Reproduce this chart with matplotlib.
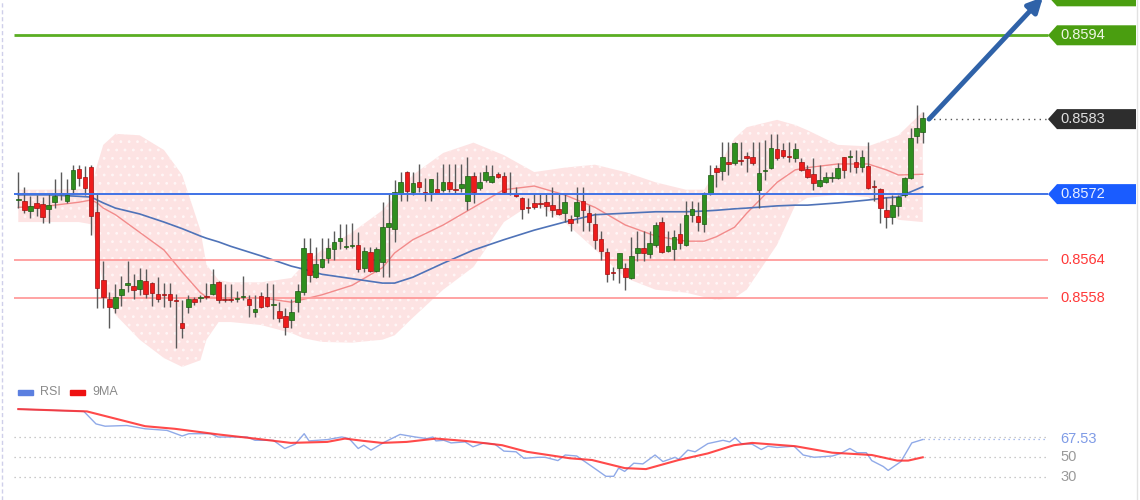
import matplotlib
matplotlib.use("Agg")
import matplotlib.pyplot as plt
from matplotlib.patches import Polygon, Rectangle
from matplotlib.transforms import IdentityTransform
from matplotlib.lines import Line2D
import numpy as np

plt.rcParams['font.family'] = ['Liberation Sans', 'DejaVu Sans']
plt.rcParams['hatch.linewidth'] = 0.8

# candles (price)
opens = [0.85716,0.85715,0.85701,0.85712,0.85711,0.85704,0.85713,0.85726,0.85715,0.85731,
         0.85758,0.85747,0.85761,0.85700,0.85607,0.85581,0.85569,0.85587,0.85600,0.85599,
         0.85595,0.85606,0.85603,0.85588,0.85588,0.85588,0.85580,0.85549,0.85570,0.85581,
         0.85583,0.85585,0.85588,0.85604,0.85581,0.85581,0.85581,0.85584,0.85581,0.85564,
         0.85585,0.85584,0.85573,0.85565,0.85558,0.85553,0.85577,0.85591,0.85644,0.85611,
         0.85625,0.85637,0.85649,0.85660,0.85652,0.85653,0.85655,0.85624,0.85645,0.85619,
         0.85632,0.85679,0.85677,0.85726,0.85754,0.85727,0.85740,0.85727,0.85727,0.85731,
         0.85730,0.85740,0.85731,0.85732,0.85715,0.85749,0.85732,0.85743,0.85740,0.85751,
         0.85749,0.85726,0.85724,0.85719,0.85706,0.85712,0.85711,0.85713,0.85709,0.85704,
         0.85698,0.85690,0.85694,0.85715,0.85698,0.85683,0.85663,0.85645,0.85618,0.85624,
         0.85624,0.85610,0.85644,0.85651,0.85643,0.85655,0.85686,0.85647,0.85649,0.85670,
         0.85655,0.85696,0.85694,0.85683,0.85726,0.85760,0.85755,0.85768,0.85766,0.85770,
         0.85776,0.85774,0.85730,0.85755,0.85760,0.85785,0.85784,0.85776,0.85773,0.85768,
         0.85758,0.85751,0.85735,0.85740,0.85746,0.85746,0.85774,0.85774,0.85768,0.85761,
         0.85762,0.85734,0.85731,0.85702,0.85693,0.85708,0.85723,0.85746,0.85803,0.85808]
highs = [0.85754,0.85734,0.85721,0.85723,0.85720,0.85724,0.85745,0.85754,0.85745,0.85764,
         0.85764,0.85762,0.85763,0.85724,0.85633,0.85591,0.85602,0.85613,0.85633,0.85615,
         0.85624,0.85622,0.85604,0.85611,0.85603,0.85603,0.85588,0.85580,0.85587,0.85584,
         0.85587,0.85603,0.85622,0.85606,0.85602,0.85602,0.85592,0.85613,0.85587,0.85587,
         0.85591,0.85603,0.85602,0.85577,0.85569,0.85581,0.85602,0.85664,0.85664,0.85652,
         0.85664,0.85664,0.85674,0.85683,0.85683,0.85685,0.85672,0.85652,0.85652,0.85652,
         0.85713,0.85726,0.85743,0.85754,0.85755,0.85754,0.85765,0.85746,0.85745,0.85754,
         0.85765,0.85765,0.85765,0.85765,0.85774,0.85754,0.85754,0.85764,0.85764,0.85754,
         0.85754,0.85754,0.85734,0.85720,0.85719,0.85724,0.85724,0.85724,0.85734,0.85724,
         0.85724,0.85696,0.85734,0.85734,0.85709,0.85698,0.85674,0.85651,0.85625,0.85644,
         0.85630,0.85666,0.85674,0.85674,0.85674,0.85686,0.85693,0.85674,0.85675,0.85685,
         0.85715,0.85715,0.85713,0.85727,0.85764,0.85764,0.85795,0.85795,0.85795,0.85795,
         0.85781,0.85795,0.85795,0.85798,0.85806,0.85806,0.85794,0.85795,0.85794,0.85773,
         0.85764,0.85773,0.85764,0.85754,0.85754,0.85766,0.85775,0.85784,0.85784,0.85784,
         0.85795,0.85743,0.85732,0.85720,0.85723,0.85723,0.85747,0.85814,0.85845,0.85836]
lows = [0.85705,0.85698,0.85692,0.85694,0.85685,0.85685,0.85705,0.85716,0.85712,0.85724,
        0.85735,0.85723,0.85668,0.85569,0.85569,0.85542,0.85562,0.85572,0.85591,0.85581,
        0.85587,0.85583,0.85572,0.85577,0.85570,0.85570,0.85515,0.85528,0.85562,0.85573,
        0.85577,0.85581,0.85587,0.85576,0.85577,0.85577,0.85577,0.85580,0.85557,0.85557,
        0.85569,0.85570,0.85554,0.85550,0.85532,0.85542,0.85564,0.85587,0.85604,0.85610,
        0.85624,0.85630,0.85634,0.85649,0.85649,0.85651,0.85618,0.85618,0.85618,0.85618,
        0.85611,0.85611,0.85659,0.85715,0.85715,0.85723,0.85727,0.85715,0.85715,0.85726,
        0.85727,0.85727,0.85724,0.85727,0.85702,0.85712,0.85730,0.85740,0.85739,0.85746,
        0.85726,0.85723,0.85720,0.85690,0.85698,0.85704,0.85705,0.85694,0.85693,0.85696,
        0.85686,0.85674,0.85685,0.85674,0.85674,0.85649,0.85634,0.85604,0.85607,0.85603,
        0.85594,0.85609,0.85633,0.85633,0.85637,0.85652,0.85644,0.85645,0.85634,0.85649,
        0.85653,0.85686,0.85674,0.85672,0.85723,0.85734,0.85743,0.85750,0.85764,0.85764,
        0.85754,0.85764,0.85705,0.85743,0.85758,0.85770,0.85773,0.85768,0.85768,0.85755,
        0.85746,0.85730,0.85734,0.85739,0.85740,0.85744,0.85746,0.85754,0.85753,0.85754,
        0.85731,0.85715,0.85685,0.85678,0.85683,0.85694,0.85720,0.85745,0.85794,0.85794]
closes = [0.85717,0.85702,0.85708,0.85705,0.85693,0.85709,0.85721,0.85724,0.85723,0.85757,
          0.85746,0.85732,0.85694,0.85596,0.85584,0.85570,0.85584,0.85595,0.85603,0.85594,
          0.85607,0.85588,0.85590,0.85581,0.85587,0.85580,0.85579,0.85542,0.85581,0.85577,
          0.85584,0.85584,0.85602,0.85580,0.85580,0.85580,0.85582,0.85585,0.85573,0.85568,
          0.85570,0.85572,0.85574,0.85556,0.85543,0.85564,0.85592,0.85651,0.85614,0.85629,
          0.85636,0.85651,0.85659,0.85664,0.85653,0.85654,0.85622,0.85647,0.85619,0.85649,
          0.85679,0.85685,0.85727,0.85740,0.85728,0.85739,0.85734,0.85724,0.85745,0.85726,
          0.85740,0.85731,0.85730,0.85738,0.85749,0.85727,0.85740,0.85754,0.85749,0.85747,
          0.85727,0.85724,0.85721,0.85704,0.85705,0.85706,0.85710,0.85708,0.85702,0.85697,
          0.85713,0.85685,0.85713,0.85702,0.85686,0.85662,0.85647,0.85615,0.85617,0.85644,
          0.85611,0.85640,0.85651,0.85644,0.85658,0.85682,0.85645,0.85653,0.85666,0.85658,
          0.85696,0.85704,0.85686,0.85726,0.85750,0.85754,0.85774,0.85765,0.85793,0.85769,
          0.85773,0.85766,0.85753,0.85757,0.85787,0.85773,0.85776,0.85775,0.85785,0.85757,
          0.85747,0.85739,0.85743,0.85747,0.85747,0.85760,0.85757,0.85774,0.85761,0.85774,
          0.85732,0.85733,0.85705,0.85693,0.85709,0.85720,0.85746,0.85800,0.85814,0.85828]

# bollinger band / moving averages, sampled at candle index
band_idx = [0, 5, 10, 12, 13, 14, 16, 20, 24, 27, 30, 31, 33, 35, 40, 45, 47, 50, 55, 60,
            62, 65, 70, 75, 80, 85, 90, 95, 100, 105, 110, 113, 115, 118, 120, 125, 128, 130,
            135, 140, 143, 145, 149]
band_upper = [0.85730,0.85730,0.85731,0.85730,0.85764,0.85791,0.85806,0.85804,0.85784,0.85750,
              0.85675,0.85628,0.85607,0.85604,0.85604,0.85610,0.85628,0.85648,0.85672,0.85702,
              0.85723,0.85750,0.85780,0.85794,0.85777,0.85754,0.85760,0.85764,0.85754,0.85740,
              0.85730,0.85730,0.85757,0.85800,0.85815,0.85825,0.85818,0.85811,0.85791,0.85789,
              0.85798,0.85804,0.85836]
band_lower = [0.85686,0.85686,0.85686,0.85683,0.85648,0.85600,0.85560,0.85526,0.85501,0.85489,
              0.85498,0.85526,0.85550,0.85550,0.85546,0.85535,0.85528,0.85523,0.85522,0.85526,
              0.85532,0.85556,0.85594,0.85625,0.85686,0.85713,0.85686,0.85649,0.85610,0.85594,
              0.85590,0.85584,0.85580,0.85583,0.85594,0.85655,0.85709,0.85719,0.85723,0.85720,
              0.85702,0.85689,0.85686]
band_mid = [0.85706,0.85708,0.85713,0.85716,0.85712,0.85705,0.85696,0.85672,0.85648,0.85618,
            0.85590,0.85584,0.85583,0.85583,0.85583,0.85577,0.85581,0.85587,0.85600,0.85624,
            0.85644,0.85662,0.85682,0.85706,0.85730,0.85735,0.85723,0.85706,0.85682,0.85667,
            0.85660,0.85660,0.85666,0.85679,0.85698,0.85740,0.85757,0.85760,0.85765,0.85765,
            0.85757,0.85750,0.85751]
slow_ma = [0.85723,0.85723,0.85721,0.85720,0.85716,0.85712,0.85705,0.85697,0.85686,0.85677,
           0.85667,0.85664,0.85659,0.85653,0.85640,0.85626,0.85622,0.85615,0.85609,0.85603,
           0.85603,0.85611,0.85630,0.85648,0.85662,0.85675,0.85686,0.85696,0.85698,0.85700,
           0.85700,0.85701,0.85702,0.85704,0.85705,0.85708,0.85709,0.85709,0.85712,0.85716,
           0.85719,0.85720,0.85734]

# key levels
level_pos = [0.85940, 0.85826, 0.85724, 0.85634, 0.85583]
level_labels = ['0.8594', '0.8583', '0.8572', '0.8564', '0.8558']
target_pos = 0.85993

# RSI panel
rsi_idx = [0, 10.8, 12.8, 14.3, 17.9, 20.9, 24.5, 27.0, 28.1, 31.7, 32.9, 37.7, 39.0, 42.0,
           43.9, 45.6, 47.1, 47.9, 50.9, 53.3, 54.5, 56.0, 56.9, 58.1, 60.4, 62.9, 65.4, 67.3,
           68.3, 68.8, 70.1, 71.3, 73.6, 74.9, 76.7, 78.5, 80.0, 82.0, 83.3, 85.6, 86.8, 88.9,
           90.1, 92.0, 94.5, 96.8, 98.1, 98.9, 99.9, 101.4, 102.9, 104.9, 106.2, 108.2, 108.8,
           110.3, 111.5, 113.6, 116.1, 117.2, 118.1, 119.1, 120.9, 122.4, 123.5, 125.0, 127.8,
           129.3, 131.1, 134.1, 135.5, 137.0, 138.2, 139.7, 140.6, 142.5, 143.3, 145.4, 147.2, 149.0]
rsi_val = [97.9, 95.6, 83.1, 80.8, 81.5, 78.2, 76.6, 71.0, 73.3, 73.3, 70.0, 70.0, 66.7, 66.7,
           58.5, 62.8, 73.3, 66.1, 67.4, 70.0, 68.4, 58.5, 61.8, 56.9, 65.1, 72.6, 70.0, 68.4,
           70.0, 66.1, 66.7, 64.1, 65.1, 60.2, 64.1, 62.8, 55.9, 55.2, 48.7, 49.7, 49.7, 46.4,
           52.0, 51.0, 40.5, 30.7, 30.7, 38.9, 35.6, 43.8, 43.1, 52.0, 45.4, 49.7, 47.7,
           56.9, 55.2, 63.4, 66.7, 65.1, 69.3, 63.4, 62.8, 57.5, 60.8, 59.5, 60.8,
           52.0, 49.7, 51.0, 53.6, 58.5, 54.3, 54.3, 46.4, 40.5, 36.6, 45.4, 64.1, 67.5]
ma9_idx = [0, 11.3, 20.9, 25.8, 32.9, 39.0, 44.9, 50.9, 53.8, 56.9, 59.9, 64.0, 68.8, 73.6,
           79.7, 83.8, 90.9, 94.5, 99.9, 103.4, 108.8, 113.6, 117.9, 120.9, 128.0, 134.1,
           140.6, 144.8, 146.6, 149.0]
ma9_val = [97.9, 95.6, 80.8, 78.2, 72.6, 68.4, 64.1, 65.1, 68.4, 66.1, 64.1, 65.1, 68.4, 66.1,
           61.8, 55.2, 48.7, 47.0, 38.9, 37.9, 47.0, 53.6, 61.8, 64.1, 60.8, 54.3,
           52.0, 46.4, 46.4, 49.7]
rsi_last = 67.53
rsi_guides = [70, 50, 30]

W, H = 1140, 500
fig = plt.figure(figsize=(W / 100, H / 100), dpi=100)
fig.patch.set_facecolor('white')

X0, STEP = 18.3, 6.07          # px of first candle, px per candle
xlim = (-X0 / STEP, (W - X0) / STEP)
def px_to_i(px):
    return (px - X0) / STEP

ax = fig.add_axes([0, 130 / H, 1, 370 / H])
ax2 = fig.add_axes([0, 0, 1, 120 / H])
for a in (ax, ax2):
    a.set_xlim(*xlim)
    a.axis('off')
ax.set_ylim(0.854848, 0.85988)
ax2.set_ylim(7, 127)

line_x0, line_x1 = px_to_i(14), px_to_i(1048)
label_x = px_to_i(1060)

# band
ax.fill_between(band_idx, band_lower, band_upper, facecolor='#fde3e3', edgecolor='#fff6f6',
                hatch='..', linewidth=0, zorder=1)
ax.plot(band_idx, band_mid, color='#f28b8b', lw=1, zorder=2)
ax.plot(band_idx, slow_ma, color='#4f73b8', lw=1.2, zorder=2)

# levels
ax.hlines(level_pos[0], line_x0, line_x1, color='#5aae22', lw=2, zorder=2)
ax.hlines(level_pos[3:], line_x0, line_x1, color='#ff9c9c', lw=1.3, zorder=2)
ax.hlines(level_pos[2], line_x0, line_x1, color='#3f72e6', lw=1.4, zorder=4)
ax.hlines(level_pos[1], px_to_i(928), line_x1, color='#555555', lw=1,
          linestyles=(0, (1, 3)), zorder=2)

# candles
x = np.arange(len(opens))
o = np.array(opens); c = np.array(closes)
up = c >= o
body_low = np.minimum(o, c)
body_h = np.maximum(np.abs(c - o), 0.000014)
ax.vlines(x, lows, highs, color='#5a5a5a', lw=1, zorder=3)
ax.bar(x[up], body_h[up], bottom=body_low[up], width=0.75, color='#2f8f1f',
       edgecolor='#1d5a12', lw=0.5, zorder=3.5)
ax.bar(x[~up], body_h[~up], bottom=body_low[~up], width=0.75, color='#ee1c1c',
       edgecolor='#9e1010', lw=0.5, zorder=3.5)

# arrow
ax.annotate('', xy=(px_to_i(1043), 0.85992), xytext=(px_to_i(929), level_pos[1]),
            arrowprops=dict(arrowstyle='-|>', lw=3.5, color='#2f62a8', mutation_scale=22,
                            shrinkA=0, shrinkB=0),
            annotation_clip=False, zorder=6)

# price tags
def tag(a, price, text, face, tcolor):
    yd = a.transData.transform((0, price))[1]
    pts = [(1048, yd), (1057, yd + 10), (1136, yd + 10), (1136, yd - 10), (1057, yd - 10)]
    a.add_patch(Polygon(pts, closed=True, facecolor=face, edgecolor='none',
                        transform=IdentityTransform(), clip_on=False, zorder=6))
    if text:
        a.text(label_x, price, text, color=tcolor, fontsize=10.5, va='center', ha='left',
               zorder=7, clip_on=False)

tag(ax, target_pos, '', '#4a9e10', 'white')
tag(ax, level_pos[0], level_labels[0], '#4a9e10', '#eef6e4')
tag(ax, level_pos[1], level_labels[1], '#2d2d2d', '#e0e0e0')
tag(ax, level_pos[2], level_labels[2], '#1a5cff', '#e8efff')
for p, lab in zip(level_pos[3:], level_labels[3:]):
    ax.text(label_x, p, lab, color='#ff3838', fontsize=10.5, va='center', ha='left')

# RSI panel
ax2.hlines(rsi_guides, line_x0, line_x1, colors='#b8b8b8', lw=0.9, linestyles=(0, (1, 3)))
ax2.hlines(rsi_last, rsi_idx[-1], line_x1, colors='#8fa8e6', lw=0.9, linestyles=(0, (1, 3)))
ax2.plot(rsi_idx, rsi_val, color='#90aae8', lw=1)
ax2.plot(ma9_idx, ma9_val, color='#ff2a2a', lw=1.5, alpha=0.85)
ax2.text(label_x, rsi_last, f'{rsi_last:.2f}', color='#7f9be6', fontsize=10.5, va='center')
for g in rsi_guides[1:]:
    ax2.text(label_x, g, str(g), color='#9a9a9a', fontsize=10.5, va='center')

# legend
ax2.add_patch(Rectangle((18, 105), 15, 5, color='#5b7fe0',
                        transform=IdentityTransform(), clip_on=False))
ax2.add_patch(Rectangle((70, 105), 15, 5, color='#ee1111',
                        transform=IdentityTransform(), clip_on=False))
fig.text(40 / W, 1 - 392 / H, 'RSI', color='#8a8a8a', fontsize=9, va='center')
fig.text(92 / W, 1 - 392 / H, '9MA', color='#8a8a8a', fontsize=9, va='center')

# frame lines
fig.add_artist(Line2D([2 / W, 2 / W], [0, 1], transform=fig.transFigure, color='#cfcfea',
                      lw=1, ls=(0, (3, 2))))
fig.add_artist(Line2D([1137 / W, 1137 / W], [0, 1], transform=fig.transFigure,
                      color='#e2e2e2', lw=1))

fig.savefig('out.png', dpi=100)
